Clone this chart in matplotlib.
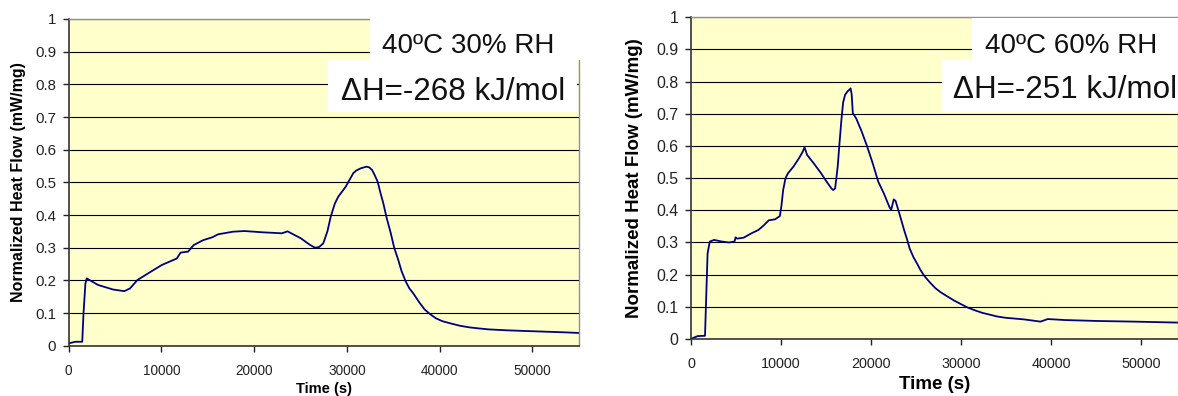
import matplotlib
matplotlib.use("Agg")
from matplotlib import pyplot as plt
from matplotlib.patches import Rectangle

plt.rcParams['font.family'] = ['Liberation Sans', 'DejaVu Sans']

# 40C 30% RH : time (s), normalized heat flow (mW/mg)
t_30 = [0, 700, 1460, 1600, 1800, 1943, 3158, 4777, 5992, 6600, 7409, 8826, 10040,
        10850, 11660, 12065, 12874, 13481, 14494, 15506, 16113, 17733, 18947,
        20972, 22996, 23603, 25020, 26000, 26559, 27000, 27449, 27900, 28259,
        28700, 29069, 29879, 30688, 31000, 31498, 32105, 32400, 32713, 33000,
        33320, 33600, 33927, 34300, 34737, 35100, 35547, 35900, 36356, 36750,
        37166, 37800, 38381, 39000, 39595, 40300, 41215, 42200, 43239, 44200,
        45263, 47300, 49312, 53360, 55000]
q_30 = [0.007, 0.012, 0.012, 0.10, 0.19, 0.206, 0.186, 0.172, 0.167, 0.175, 0.201,
        0.226, 0.247, 0.257, 0.267, 0.285, 0.288, 0.308, 0.323, 0.332, 0.341,
        0.349, 0.351, 0.347, 0.344, 0.350, 0.329, 0.309, 0.300, 0.302, 0.313,
        0.350, 0.395, 0.435, 0.456, 0.487, 0.528, 0.536, 0.543, 0.548, 0.546,
        0.538, 0.522, 0.502, 0.470, 0.436, 0.390, 0.344, 0.300, 0.262, 0.228,
        0.196, 0.175, 0.160, 0.133, 0.111, 0.096, 0.084, 0.075, 0.068, 0.061,
        0.056, 0.053, 0.050, 0.047, 0.045, 0.041, 0.039]

# 40C 60% RH
t_60 = [123, 737, 1556, 1679, 1843, 2088, 2580, 3399, 4218, 4832, 4955, 5119, 5856,
        6675, 7494, 8108, 8640, 9337, 9869, 10033, 10237, 10500, 10770, 11384,
        11998, 12408, 12613, 12899, 13636, 14455, 15069, 15602, 15800, 16011,
        16298, 16500, 16708, 16900, 17117, 17400, 17732, 17850, 17977, 18346,
        18960, 19574, 20188, 20803, 21417, 22031, 22236, 22523, 22728, 23137,
        23670, 24000, 24284, 24700, 25102, 25500, 25921, 26500, 27150, 27700,
        28378, 29200, 30016, 30800, 31654, 32400, 33292, 34000, 34930, 36978,
        38821, 39640, 41482, 45167, 49263, 54100]
q_60 = [0.002, 0.009, 0.010, 0.121, 0.266, 0.303, 0.308, 0.303, 0.300, 0.303, 0.316,
        0.312, 0.315, 0.328, 0.339, 0.354, 0.369, 0.372, 0.382, 0.411, 0.463,
        0.500, 0.515, 0.536, 0.562, 0.582, 0.596, 0.572, 0.546, 0.515, 0.489,
        0.468, 0.463, 0.468, 0.536, 0.610, 0.681, 0.735, 0.759, 0.770, 0.779,
        0.760, 0.702, 0.686, 0.645, 0.598, 0.546, 0.489, 0.453, 0.411, 0.401,
        0.434, 0.429, 0.391, 0.339, 0.310, 0.282, 0.255, 0.235, 0.214, 0.196,
        0.177, 0.158, 0.146, 0.134, 0.120, 0.108, 0.097, 0.088, 0.081, 0.075,
        0.070, 0.066, 0.061, 0.054, 0.062, 0.059, 0.056, 0.054, 0.051]

x_ticks = [0, 10000, 20000, 30000, 40000, 50000]
y_ticks = [0, 0.1, 0.2, 0.3, 0.4, 0.5, 0.6, 0.7, 0.8, 0.9, 1]
y_labels = ['0', '0.1', '0.2', '0.3', '0.4', '0.5', '0.6', '0.7', '0.8', '0.9', '1']

W, H = 1178, 396


def px(x, y):
    # pixel (from top-left) -> figure fraction
    return x / W, 1 - y / H


def heat_panel(fig, rect, t, q, xmax, tick_fs, ylab_fs, xlab_fs, ylab_x, xlab_y):
    ax = fig.add_axes(rect)
    ax.set_facecolor('#ffffcc')
    ax.plot(t, q, color='#000080', lw=1.3)
    ax.set_xlim(0, xmax)
    ax.set_ylim(0, 1)
    ax.set_xticks(x_ticks)
    ax.set_yticks(y_ticks)
    ax.set_yticklabels(y_labels)
    ax.grid(axis='y', color='black', lw=0.8)
    ax.set_axisbelow(True)
    ax.tick_params(axis='x', direction='out', length=4.5, width=1, pad=8.5,
                   labelsize=tick_fs, colors='#222222')
    ax.tick_params(axis='y', direction='out', length=4.5, width=1, pad=4.5,
                   labelsize=tick_fs + 1, colors='#222222')
    for s in ['left', 'bottom']:
        ax.spines[s].set_color('#333333')
        ax.spines[s].set_linewidth(1.2)
    for s in ['top', 'right']:
        ax.spines[s].set_color('#909090')
        ax.spines[s].set_linewidth(1.0)
    ax.text(ylab_x, 0.5, 'Normalized Heat Flow (mW/mg)', transform=ax.transAxes,
            rotation=90, ha='center', va='center', fontsize=ylab_fs,
            fontweight='bold')
    ax.text(0.5, xlab_y, 'Time (s)', transform=ax.transAxes, ha='center',
            va='center', fontsize=xlab_fs, fontweight='bold')
    return ax


fig = plt.figure(figsize=(W / 100, H / 100), dpi=100)

x0, y0 = px(68.7, 345.7)
heat_panel(fig, [x0, y0, 510 / W, 326.7 / H], t_30, q_30, 55000, 9.8, 11.5, 10.5,
           -0.098, -0.132)
x0, y0 = px(691, 339)
heat_panel(fig, [x0, y0, (W - 691) / W, 321.7 / H], t_60, q_60, 54100, 10.4, 13.5,
           13.5, -0.117, -0.14)

# white annotation boxes
boxes = [(370, 5, 586, 60), (328, 60, 577, 112),
         (972, 18, 1178, 60), (942, 60, 1178, 112)]
for (bx0, by0, bx1, by1) in boxes:
    fx, fy = px(bx0, by1)
    fig.add_artist(Rectangle((fx, fy), (bx1 - bx0) / W, (by1 - by0) / H,
                             transform=fig.transFigure, facecolor='white',
                             edgecolor='none', zorder=5))

notes = [(381.7, 53.3, '40\u00baC 30% RH', 20), (340.7, 100, '\u0394H=-268 kJ/mol', 22.6),
         (985, 52.7, '40\u00baC 60% RH', 20), (953, 98.3, '\u0394H=-251 kJ/mol', 22.6)]
for (tx, ty, s, fs) in notes:
    fx, fy = px(tx, ty)
    fig.text(fx, fy, s, ha='left', va='baseline', fontsize=fs, color='#111111',
             zorder=6)

plt.savefig('out.png', dpi=100)
